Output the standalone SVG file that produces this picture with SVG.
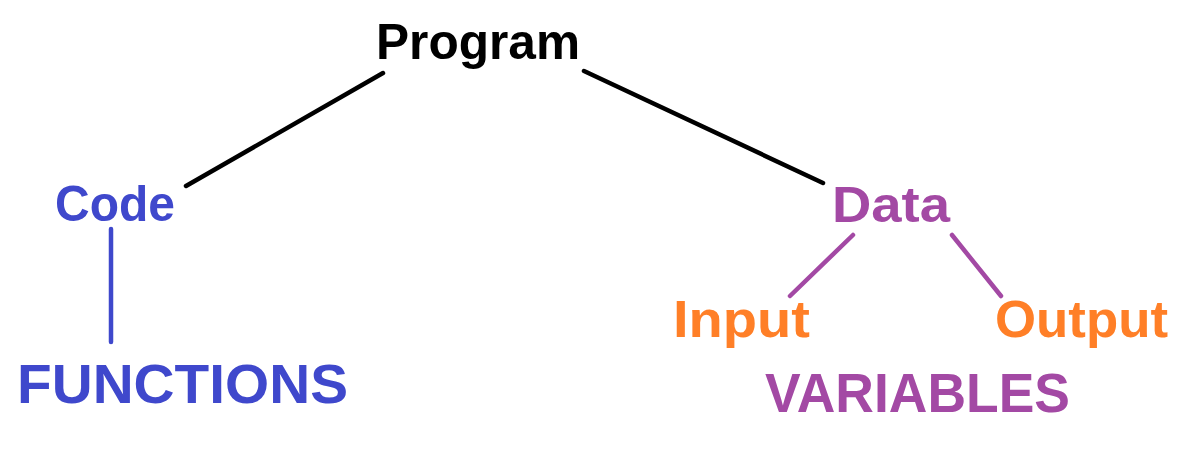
<svg xmlns="http://www.w3.org/2000/svg" width="1188" height="472" viewBox="0 0 1188 472">
<style>
text{font-family:"Liberation Sans","DejaVu Sans",sans-serif;font-weight:bold}
.blk{fill:#000}
.blue{fill:#3F48CC}
.pur{fill:#A349A4}
.org{fill:#FF7F27}
line{stroke-width:4.5;stroke-linecap:round}
</style>
<rect width="1188" height="472" fill="#fff"/>
<g id="connectors">
<line x1="383" y1="73" x2="186" y2="186" stroke="#000"/>
<line x1="584" y1="71" x2="823" y2="183" stroke="#000"/>
<line x1="111" y1="229" x2="111" y2="342" stroke="#3F48CC"/>
<line x1="853" y1="235" x2="790" y2="296" stroke="#A349A4"/>
<line x1="952" y1="235" x2="1001" y2="296" stroke="#A349A4"/>
</g>
<g id="program"><text class="blk" x="376" y="59" font-size="50" textLength="204" lengthAdjust="spacingAndGlyphs">Program</text></g>
<g id="code"><text class="blue" x="55" y="221" font-size="50" textLength="120" lengthAdjust="spacingAndGlyphs">Code</text></g>
<g id="functions"><text class="blue" x="17" y="403" font-size="55" textLength="331" lengthAdjust="spacingAndGlyphs">FUNCTIONS</text></g>
<g id="data"><text class="pur" x="832" y="222" font-size="50" textLength="118" lengthAdjust="spacingAndGlyphs">Data</text></g>
<g id="input"><text class="org" x="673" y="337" font-size="52" textLength="137" lengthAdjust="spacingAndGlyphs">Input</text></g>
<g id="output"><text class="org" x="995" y="337" font-size="52" textLength="173" lengthAdjust="spacingAndGlyphs">Output</text></g>
<g id="variables"><text class="pur" x="765" y="412" font-size="55" textLength="305" lengthAdjust="spacingAndGlyphs">VARIABLES</text></g>
</svg>
